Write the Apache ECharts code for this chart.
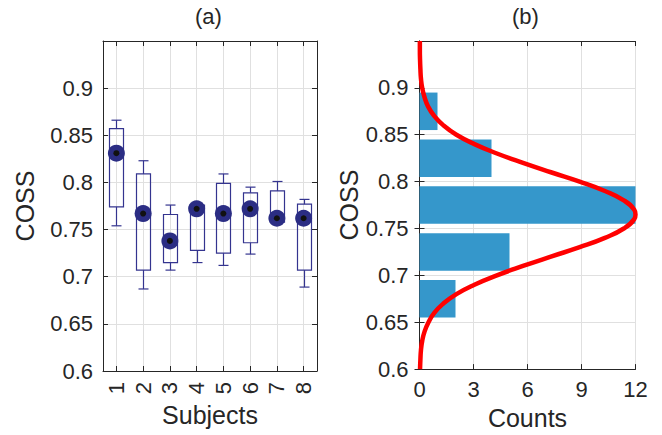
<!DOCTYPE html>
<html>
<head>
    <meta charset="utf-8">
    <title>COSS</title>
    <script src="https://cdn.jsdelivr.net/npm/echarts@6/dist/echarts.min.js"></script>
</head>
<body style="margin:0">
<div id="main" style="width: 662px;height:435px;"></div>
<script type="text/javascript">
    // (a) box plot per subject
    var subjects = ['1', '2', '3', '4', '5', '6', '7', '8'];
    var whiskerLow  = [0.754, 0.687, 0.707, 0.715, 0.712, 0.724, 0.756, 0.689];
    var boxLow      = [0.774, 0.707, 0.715, 0.728, 0.725, 0.736, 0.758, 0.707];
    var medians     = [0.831, 0.767, 0.738, 0.772, 0.767, 0.772, 0.762, 0.762];
    var boxHigh     = [0.857, 0.809, 0.766, 0.776, 0.799, 0.789, 0.791, 0.777];
    var whiskerHigh = [0.866, 0.823, 0.776, 0.778, 0.809, 0.795, 0.801, 0.782];

    // (b) histogram of COSS with fitted curve
    var binCenters = [0.675, 0.725, 0.775, 0.825, 0.875];
    var binCounts  = [2, 5, 12, 4, 1];
    var fitCoss   = [0.60, 0.61, 0.62, 0.63, 0.64, 0.65, 0.66, 0.67, 0.68, 0.69, 0.70, 0.71,
                     0.72, 0.73, 0.74, 0.75, 0.76, 0.765, 0.77, 0.78, 0.79, 0.80, 0.81, 0.82,
                     0.83, 0.84, 0.85, 0.86, 0.87, 0.88, 0.89, 0.90, 0.91, 0.92, 0.93, 0.94, 0.95];
    var fitCounts = [0.03, 0.05, 0.08, 0.15, 0.28, 0.50, 0.82, 1.33, 2.05, 3.05, 4.30, 5.75,
                     7.30, 8.90, 10.30, 11.35, 11.93, 12.00, 11.93, 11.35, 10.30, 8.90, 7.30, 5.75,
                     4.30, 3.05, 2.05, 1.33, 0.82, 0.48, 0.28, 0.15, 0.08, 0.05, 0.03, 0.02, 0.02];

    var cossTicks = [0.6, 0.65, 0.7, 0.75, 0.8, 0.85, 0.9];

    var font = "'Liberation Sans', Arial, sans-serif";
    var ink = '#262626';
    var gridGrey = '#e0e0e0';
    var boxColor = '#34348f';

    var boxRows = subjects.map(function (s, i) {
        return [i, whiskerLow[i], boxLow[i], medians[i], boxHigh[i], whiskerHigh[i]];
    });
    var medianPts = medians.map(function (m, i) { return [i, m]; });
    var histRows = binCenters.map(function (c, i) { return [binCounts[i], c]; });
    var fitPts = fitCoss.map(function (c, i) { return [fitCounts[i], c]; });

    function cossLabel(v) {
        return cossTicks.indexOf(+v.toFixed(2)) >= 0 ? String(+v.toFixed(2)) : '';
    }

    function cossAxis(grid, pos, showLabel, nameGap, margin) {
        return {
            type: 'value', gridIndex: grid, position: pos,
            min: 0.6, max: 0.95, interval: 0.05,
            name: showLabel ? 'COSS' : '', nameLocation: 'middle', nameGap: nameGap,
            nameTextStyle: { fontFamily: font, fontSize: 25, color: ink },
            axisLine: { show: true, lineStyle: { color: ink, width: 1 } },
            axisTick: { show: true, inside: true, length: 5, lineStyle: { color: ink } },
            axisLabel: { show: showLabel, fontFamily: font, fontSize: 22, color: ink, margin: margin, formatter: cossLabel },
            splitLine: { show: showLabel, lineStyle: { color: gridGrey, width: 1 } }
        };
    }

    var chart = echarts.init(document.getElementById('main'), null, { renderer: 'svg' });
    chart.setOption({
        animation: false,
        backgroundColor: '#fff',
        textStyle: { fontFamily: font },
        graphic: [
            { type: 'text', left: 195, top: 5, style: { text: '(a)', font: '22px ' + font, fill: ink } },
            { type: 'text', left: 512, top: 5, style: { text: '(b)', font: '22px ' + font, fill: ink } }
        ],
        grid: [
            { left: 103, top: 41, width: 214, height: 330 },
            { left: 419.5, top: 41, width: 216, height: 330 }
        ],
        xAxis: [
            {
                type: 'category', gridIndex: 0, data: subjects, boundaryGap: true,
                name: 'Subjects', nameLocation: 'middle', nameGap: 25,
                nameTextStyle: { fontFamily: font, fontSize: 25, color: ink },
                axisLine: { show: true, lineStyle: { color: ink } },
                axisTick: { show: true, inside: true, alignWithLabel: true, length: 5, lineStyle: { color: ink } },
                axisLabel: { interval: 0, rotate: 90, fontFamily: font, fontSize: 22, color: ink, margin: 11 },
                splitLine: { show: true, alignWithLabel: true, interval: 0, lineStyle: { color: gridGrey } }
            },
            {
                type: 'category', gridIndex: 0, data: subjects, boundaryGap: true, position: 'top',
                axisLine: { show: true, lineStyle: { color: ink } },
                axisTick: { show: true, inside: true, alignWithLabel: true, interval: 0, length: 5, lineStyle: { color: ink } },
                axisLabel: { show: false }, splitLine: { show: false }
            },
            {
                type: 'value', gridIndex: 1, min: 0, max: 12, interval: 3,
                name: 'Counts', nameLocation: 'middle', nameGap: 35,
                nameTextStyle: { fontFamily: font, fontSize: 25, color: ink },
                axisLine: { show: true, lineStyle: { color: ink } },
                axisTick: { show: true, inside: true, length: 5, lineStyle: { color: ink } },
                axisLabel: { fontFamily: font, fontSize: 22, color: ink, margin: 9 },
                splitLine: { show: true, lineStyle: { color: gridGrey } }
            },
            {
                type: 'value', gridIndex: 1, min: 0, max: 12, interval: 3, position: 'top',
                axisLine: { show: true, lineStyle: { color: ink } },
                axisTick: { show: true, inside: true, length: 5, lineStyle: { color: ink } },
                axisLabel: { show: false }, splitLine: { show: false }
            }
        ],
        yAxis: [
            cossAxis(0, 'left', true, 66, 10),
            cossAxis(0, 'right', false, 0, 0),
            cossAxis(1, 'left', true, 54, 11),
            cossAxis(1, 'right', false, 0, 0)
        ],
        series: [
            {
                type: 'custom', xAxisIndex: 0, yAxisIndex: 0, data: boxRows,
                encode: { x: 0, y: [1, 2, 3, 4, 5] },
                renderItem: function (params, api) {
                    var i = api.value(0);
                    var lo = api.coord([i, api.value(1)]);
                    var q1 = api.coord([i, api.value(2)]);
                    var q3 = api.coord([i, api.value(4)]);
                    var hi = api.coord([i, api.value(5)]);
                    var x = Math.round(lo[0]) + 0.5, bw = 7, cw = 5;
                    var st = { stroke: boxColor, lineWidth: 1.2, fill: null };
                    return {
                        type: 'group',
                        children: [
                            { type: 'rect', shape: { x: x - bw, y: q3[1], width: 2 * bw, height: q1[1] - q3[1] }, style: st },
                            { type: 'line', shape: { x1: x, y1: q1[1], x2: x, y2: lo[1] }, style: st },
                            { type: 'line', shape: { x1: x - cw, y1: lo[1], x2: x + cw, y2: lo[1] }, style: st },
                            { type: 'line', shape: { x1: x, y1: q3[1], x2: x, y2: hi[1] }, style: st },
                            { type: 'line', shape: { x1: x - cw, y1: hi[1], x2: x + cw, y2: hi[1] }, style: st }
                        ]
                    };
                },
                z: 3
            },
            {
                type: 'scatter', xAxisIndex: 0, yAxisIndex: 0, data: medianPts,
                symbol: 'circle', symbolSize: 17, itemStyle: { color: '#2b2d84', opacity: 1 }, z: 4
            },
            {
                type: 'scatter', xAxisIndex: 0, yAxisIndex: 0, data: medianPts,
                symbol: 'circle', symbolSize: 6, itemStyle: { color: '#111', opacity: 1 }, z: 5
            },
            {
                type: 'custom', xAxisIndex: 2, yAxisIndex: 2, data: histRows,
                encode: { x: 0, y: 1 },
                renderItem: function (params, api) {
                    var half = 0.05 * 0.8 / 2;
                    var p1 = api.coord([0, api.value(1) + half]);
                    var p2 = api.coord([api.value(0), api.value(1) - half]);
                    return {
                        type: 'rect',
                        shape: { x: p1[0], y: p1[1], width: p2[0] - p1[0], height: p2[1] - p1[1] },
                        style: { fill: '#3597cb' }
                    };
                },
                z: 3
            },
            {
                type: 'line', xAxisIndex: 2, yAxisIndex: 2, data: fitPts,
                smooth: 0.5, showSymbol: false, symbol: 'none',
                lineStyle: { color: '#ff0000', width: 4.5, join: 'round' }, z: 6
            }
        ]
    });
</script>
</body>
</html>
